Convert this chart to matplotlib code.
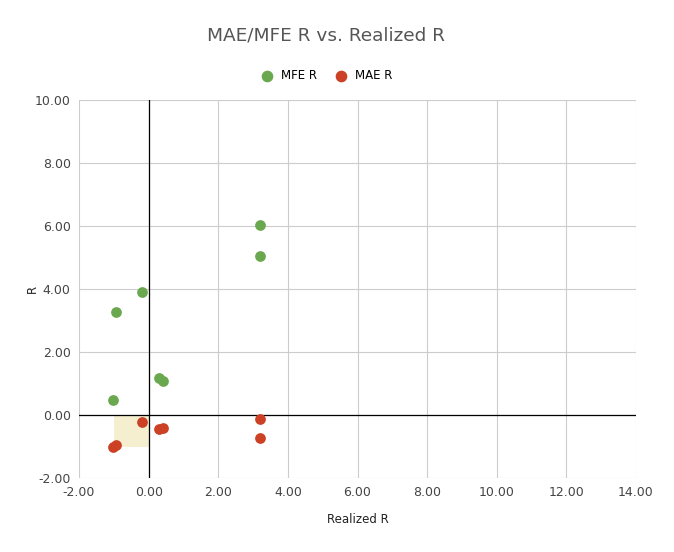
import matplotlib
matplotlib.use("Agg")
import matplotlib.pyplot as plt
from matplotlib.patches import Rectangle

realized = [3.2, 3.2, -0.19, -0.94, 0.30, 0.41, -1.02]
mfe = [6.03, 5.05, 3.90, 3.27, 1.17, 1.08, 0.48]
realized_mae = [3.2, 3.2, -0.19, 0.30, 0.41, -1.02, -0.94]
mae = [-0.13, -0.73, -0.22, -0.44, -0.41, -1.02, -0.95]

W, H = 674, 552
fig = plt.figure(figsize=(W/100, H/100), dpi=100)
ax = fig.add_axes([79/W, 1-478/H, (636-79)/W, (478-100)/H])
ax.set_xlim(-2, 14)
ax.set_ylim(-2, 10)
ax.set_xticks(range(-2, 15, 2))
ax.set_yticks(range(-2, 11, 2))
ax.set_xticklabels([f"{v:.2f}" for v in range(-2, 15, 2)])
ax.set_yticklabels([f"{v:.2f}" for v in range(-2, 11, 2)])
ax.grid(True, color="#cccccc", linewidth=0.8)
ax.set_axisbelow(True)
for s in ax.spines.values():
    s.set_visible(False)
ax.tick_params(length=0, labelsize=9, colors="#444444", pad=6)
ax.axhline(0, color="black", linewidth=0.9, zorder=1)
ax.axvline(0, color="black", linewidth=0.9, zorder=1)
ax.add_patch(Rectangle((-1, -1), 1, 1, facecolor="#f3ecc4", alpha=0.8, zorder=0.5))
ax.scatter(realized, mfe, s=45, color="#6aa84f", label="MFE R", zorder=3)
ax.scatter(realized_mae, mae, s=45, color="#cc4125", label="MAE R", zorder=3)
ax.set_xlabel("Realized R", fontsize=8.5, color="#222222", labelpad=10)
fig.text(32/W, 1-289/H, "R", fontsize=8.5, color="#222222", rotation=90, va="center", ha="center")
fig.text(207/W, 1-36/H, "MAE/MFE R vs. Realized R", fontsize=13.3, color="#555555", va="center")
ax.legend(loc="lower center", bbox_to_anchor=(0.44, 1.02), ncol=2, frameon=False,
          fontsize=8.5, handletextpad=0.2, columnspacing=1.0, markerscale=1.1)
fig.savefig("out.png", dpi=100)
